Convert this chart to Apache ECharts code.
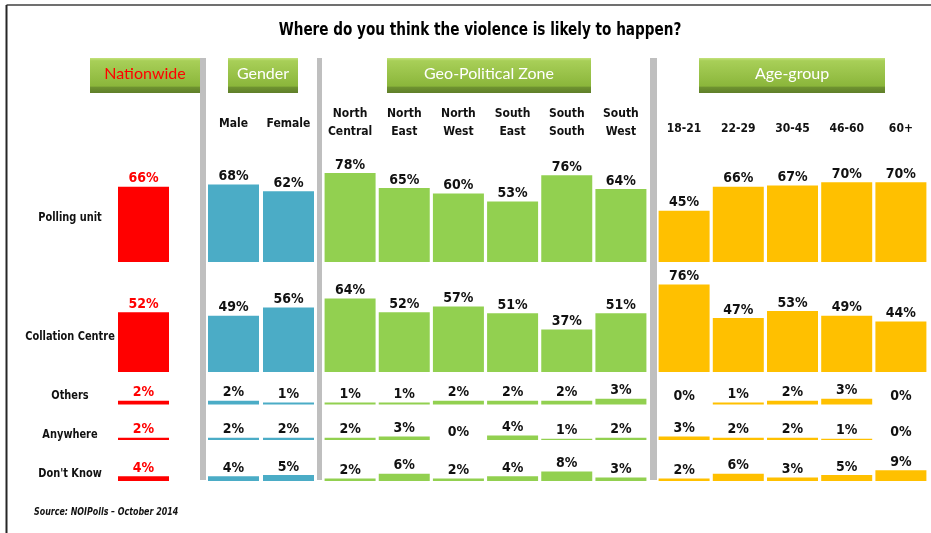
<!DOCTYPE html>
<html>
<head>
<meta charset="utf-8">
<script src="https://cdn.jsdelivr.net/npm/echarts@6/dist/echarts.min.js"></script>
<style>
  html, body { margin: 0; padding: 0; background: #fff; }
  #chart { width: 931px; height: 533px; }
</style>
</head>
<body>
<div id="chart"></div>
<script>
// rows of the table
const rowNames = ['Polling unit', 'Collation Centre', 'Others', 'Anywhere', "Don't Know"]

// column groups
const groupNames = ['Nationwide', 'Gender', 'Geo-Political Zone', 'Age-group']
const nationwideCats = ['']
const genderCats = ['Male', 'Female']
const zoneCats = ['North\nCentral', 'North\nEast', 'North\nWest', 'South\nEast', 'South\nSouth', 'South\nWest']
const ageCats = ['18-21', '22-29', '30-45', '46-60', '60+']

// values (%) one array per row
const nationwideValues = [[66], [52], [2], [2], [4]]
const genderValues = [[68, 62], [49, 56], [2, 1], [2, 2], [4, 5]]
const zoneValues = [
  [78, 65, 60, 53, 76, 64],
  [64, 52, 57, 51, 37, 51],
  [1, 1, 2, 2, 2, 3],
  [2, 3, 0, 4, 1, 2],
  [2, 6, 2, 4, 8, 3]
]
const ageValues = [
  [45, 66, 67, 70, 70],
  [76, 47, 53, 49, 44],
  [0, 1, 2, 3, 0],
  [3, 2, 2, 1, 0],
  [2, 6, 3, 5, 9]
]

const FONT = '"DejaVu Sans Condensed", "Liberation Sans Narrow", "Liberation Sans", sans-serif'

// layout of column groups (px)
const groups = [
  { cats : nationwideCats, values : nationwideValues, color : '#FF0000', label : '#FF0000', left : 116, width : 55, margin : 12 },
  { cats : genderCats, values : genderValues, color : '#4BACC6', label : '#111', left : 206, width : 110, margin : 15 },
  { cats : zoneCats, values : zoneValues, color : '#92D050', label : '#111', left : 323, width : 325, margin : 7 },
  { cats : ageCats, values : ageValues, color : '#FFC000', label : '#111', left : 657, width : 271, margin : 10 }
]
// baseline and scale height of each row (px)
const rowBase = [262, 372, 404.5, 440, 481]
const rowScale = [114, 115, 190, 115, 120]
const rowLabelY = [218, 337, 396, 435, 474]

const grid = []
const xAxis = []
const yAxis = []
const series = []

rowNames.forEach( ( row, r ) => {
  groups.forEach( ( g, c ) => {
    const idx = grid.length
    grid.push( {
      left : g.left,
      width : g.width,
      top : rowBase[r] - rowScale[r],
      height : rowScale[r],
      containLabel : false
    } )
    xAxis.push( {
      type : 'category',
      gridIndex : idx,
      data : g.cats,
      position : 'top',
      show : r === 0,
      axisLine : { show : false },
      axisTick : { show : false },
      axisLabel : {
        interval : 0,
        margin : g.margin,
        color : '#111',
        fontFamily : FONT,
        fontWeight : 'bold',
        fontSize : 12,
        lineHeight : 18
      }
    } )
    yAxis.push( {
      type : 'value',
      gridIndex : idx,
      min : 0,
      max : 100,
      show : false
    } )
    series.push( {
      type : 'bar',
      name : row,
      xAxisIndex : idx,
      yAxisIndex : idx,
      barWidth : 51,
      itemStyle : { color : g.color },
      label : {
        show : true,
        position : 'top',
        distance : 1,
        formatter : '{c}%',
        color : g.label,
        fontFamily : FONT,
        fontWeight : 'bold',
        fontSize : 14
      },
      silent : true,
      data : g.values[r]
    } )
  } )
} )

// header buttons
const buttons = [
  { x : 90, w : 110, color : '#FF0000' },
  { x : 228, w : 70, color : '#FFFFFF' },
  { x : 387, w : 204, color : '#FFFFFF' },
  { x : 699, w : 186, color : '#FFFFFF' }
]
const graphic = []

// frame lines
graphic.push( { type : 'line', shape : { x1 : 6.5, y1 : 5, x2 : 931, y2 : 5 }, style : { stroke : '#404040', lineWidth : 1.5 } } )
graphic.push( { type : 'line', shape : { x1 : 6.5, y1 : 5, x2 : 6.5, y2 : 533 }, style : { stroke : '#262626', lineWidth : 2 } } )

// title, narrowed to the original's condensed face
graphic.push( {
  type : 'text',
  x : 480,
  y : 30,
  scaleX : 0.84,
  style : {
    text : 'Where do you think the violence is likely to happen?',
    fill : '#000',
    font : 'bold 18px ' + FONT,
    textAlign : 'center',
    textVerticalAlign : 'middle'
  }
} )

// separators
;[[200, 6], [317, 5], [650, 7]].forEach( s => {
  graphic.push( { type : 'rect', shape : { x : s[0], y : 58, width : s[1], height : 422 }, style : { fill : '#BFBFBF' }, z : 1 } )
} )

buttons.forEach( ( b, i ) => {
  graphic.push( {
    type : 'rect',
    shape : { x : b.x, y : 58, width : b.w, height : 35 },
    style : {
      fill : new echarts.graphic.LinearGradient( 0, 0, 0, 1, [
        { offset : 0, color : '#C4E27C' },
        { offset : 0.08, color : '#A8CF58' },
        { offset : 0.8, color : '#8BB63B' },
        { offset : 0.84, color : '#6E9230' },
        { offset : 1, color : '#5F7E29' }
      ] )
    },
    z : 2
  } )
  graphic.push( {
    type : 'text',
    x : b.x + b.w / 2,
    y : 74,
    style : {
      text : groupNames[i],
      fill : b.color,
      font : '16px Lato, "Open Sans", sans-serif',
      textAlign : 'center',
      textVerticalAlign : 'middle'
    },
    z : 3
  } )
} )

// row labels
rowNames.forEach( ( name, r ) => {
  graphic.push( {
    type : 'text',
    x : 70,
    y : rowLabelY[r],
    scaleX : 0.84,
    style : {
      text : name,
      fill : '#111',
      font : 'bold 13px ' + FONT,
      textAlign : 'center',
      textVerticalAlign : 'middle'
    }
  } )
} )

// source note
graphic.push( {
  type : 'text',
  x : 34,
  y : 512,
  scaleX : 0.8,
  style : {
    text : 'Source: NOIPolls \u2013 October 2014',
    fill : '#111',
    font : 'italic bold 11px ' + FONT,
    textVerticalAlign : 'middle'
  }
} )

const chart = echarts.init( document.getElementById( 'chart' ) )
chart.setOption( {
  backgroundColor : '#fff',
  animation : false,
  grid : grid,
  xAxis : xAxis,
  yAxis : yAxis,
  series : series,
  graphic : graphic
} )
</script>
</body>
</html>
